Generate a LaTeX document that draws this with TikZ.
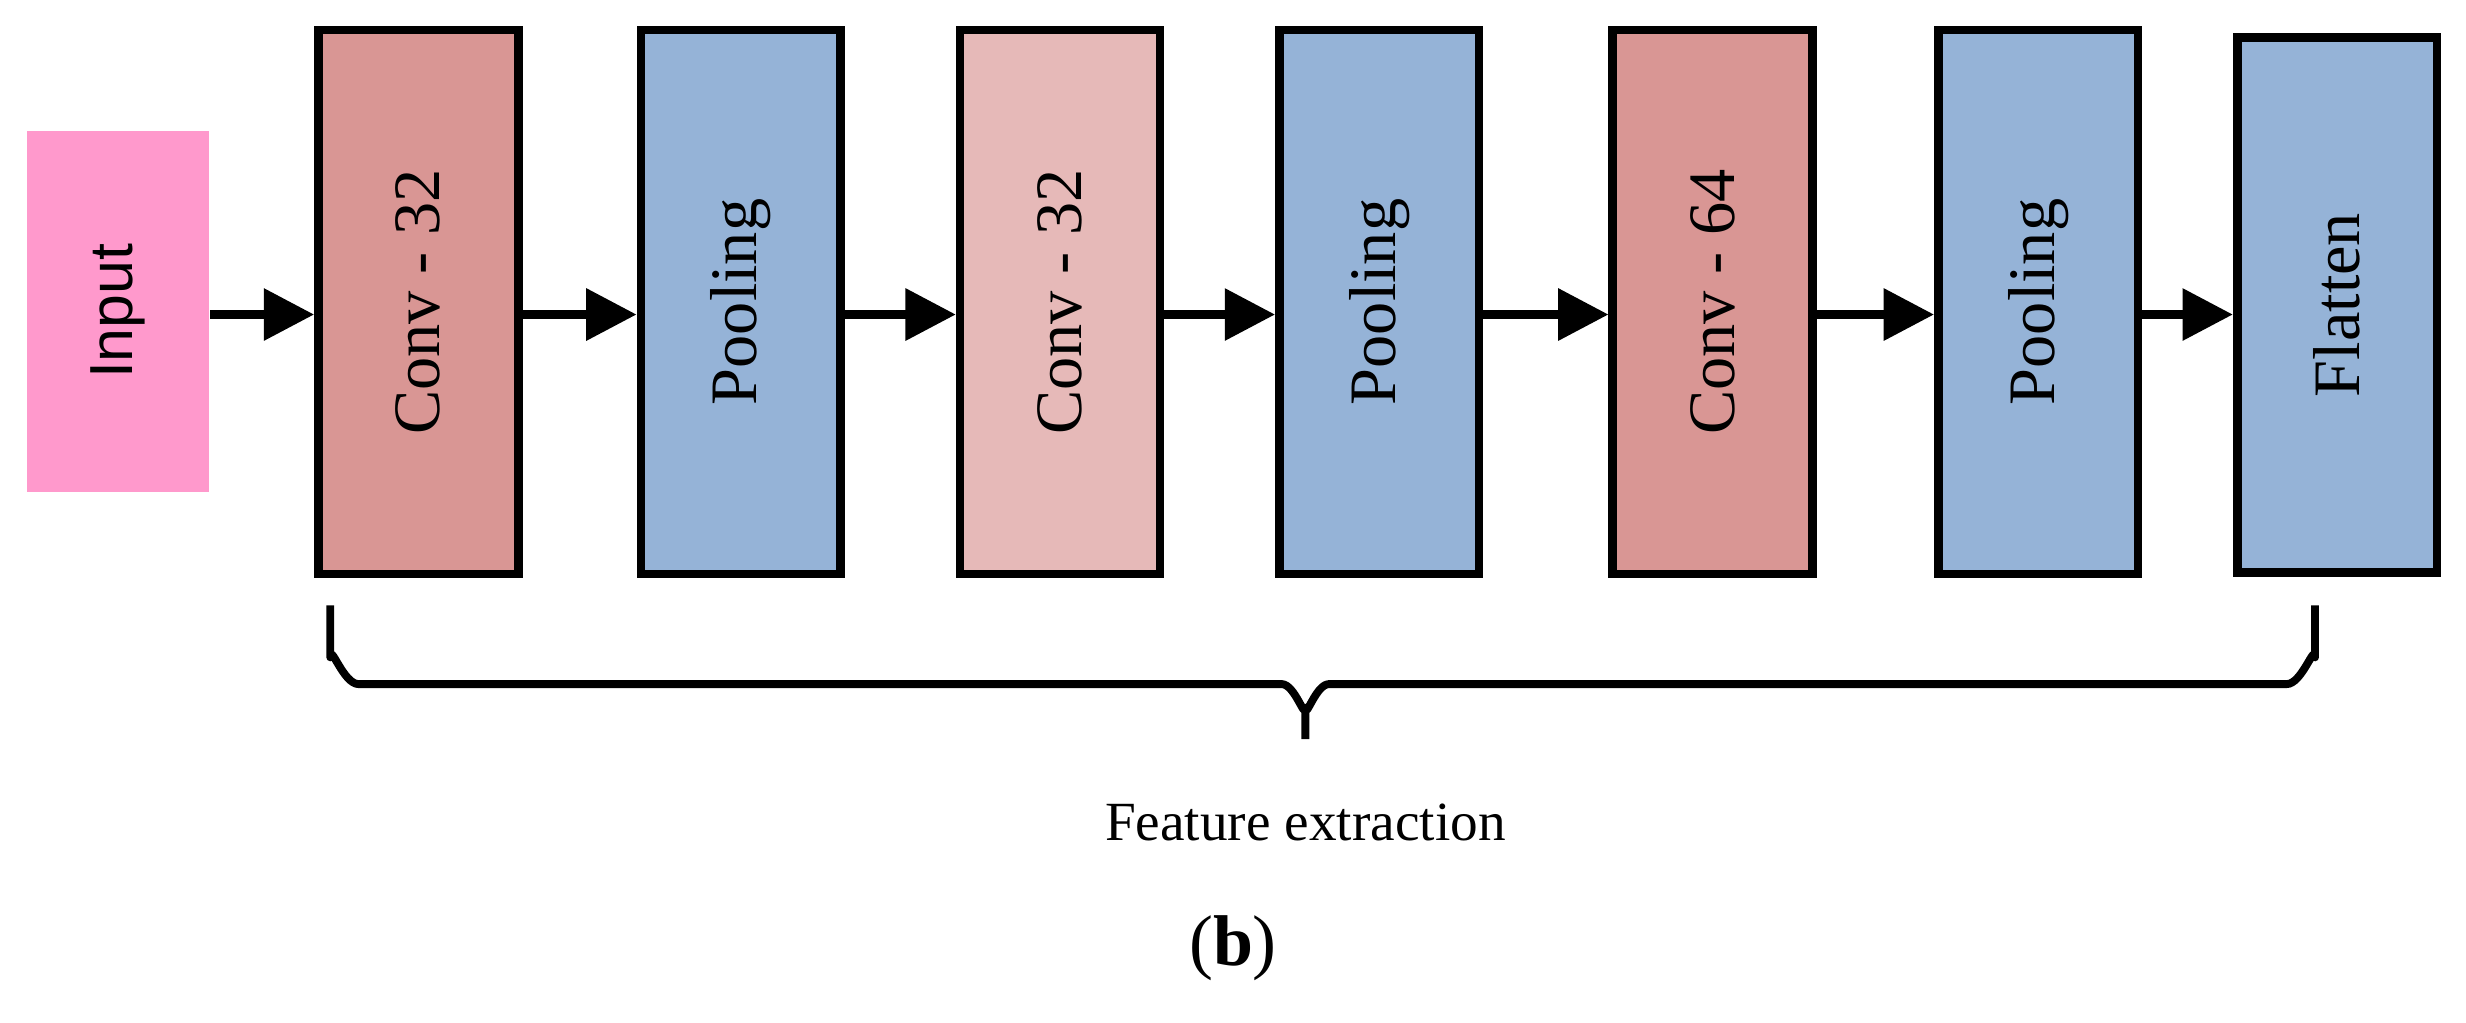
\documentclass[tikz,border=0pt]{standalone}
\usepackage{fontspec}
\setmainfont{Liberation Serif}
\newfontfamily\sansf{Liberation Sans}
\usetikzlibrary{arrows.meta}
\definecolor{convc}{HTML}{D99694}
\definecolor{convl}{HTML}{E6B9B8}
\definecolor{poolc}{HTML}{95B3D7}
\definecolor{inc}{HTML}{FF99CC}
\begin{document}
\begin{tikzpicture}[x=0.1mm,y=-0.1mm,
 blk/.style={draw=black,line width=0.55mm,minimum width=12.7mm,minimum height=34.6mm,inner sep=0pt},
 lab/.style={rotate=90,font=\fontsize{12}{14}\selectfont},
 arr/.style={-{Triangle[length=3.2mm,width=3.2mm]},line width=0.55mm}]
\useasboundingbox (0,0) rectangle (1568,650);
\coordinate (ay) at (0,200);
\node[fill=inc,minimum width=11.6mm,minimum height=23mm,inner sep=0pt] (in) at (75,198) {};
\node[rotate=90,font=\sansf\fontsize{11}{13}\selectfont] at (in) {Input};
\node[blk,fill=convc] (c1) at (266,192) {};
\node[lab] at (c1) {Conv - 32};
\node[blk,fill=poolc] (p1) at (471,192) {};
\node[lab] at (p1) {Pooling};
\node[blk,fill=convl] (c2) at (674,192) {};
\node[lab] at (c2) {Conv - 32};
\node[blk,fill=poolc] (p2) at (877,192) {};
\node[lab] at (p2) {Pooling};
\node[blk,fill=convc] (c3) at (1089,192) {};
\node[lab] at (c3) {Conv - 64};
\node[blk,fill=poolc] (p3) at (1296,192) {};
\node[lab] at (p3) {Pooling};
\node[blk,fill=poolc,minimum height=34mm] (f) at (1486,194) {};
\node[lab] at (f) {Flatten};
\draw[arr] (in.east |- ay) -- (c1.west |- ay);
\draw[arr] (c1.east |- ay) -- (p1.west |- ay);
\draw[arr] (p1.east |- ay) -- (c2.west |- ay);
\draw[arr] (c2.east |- ay) -- (p2.west |- ay);
\draw[arr] (p2.east |- ay) -- (c3.west |- ay);
\draw[arr] (c3.east |- ay) -- (p3.west |- ay);
\draw[arr] (p3.east |- ay) -- (f.west |- ay);
\coordinate (bl) at (210,385);
\coordinate (br) at (1472,385);
\coordinate (bt) at (830,470);
\draw[line width=0.5mm,line join=round] (bl) -- (210,418) to[out=90,in=180] (228,435) -- (815,435) to[out=0,in=-90] (830,450) -- (bt)
 (830,450) to[out=-90,in=180] (845,435) -- (1454,435) to[out=0,in=90] (1472,418) -- (br);
\node[font=\fontsize{10}{12}\selectfont] (fe) at (830,523) {Feature extraction};
\node[font=\fontsize{13}{15}\selectfont] (b) at (784,603) {(\textbf{b})};
\end{tikzpicture}
\end{document}
